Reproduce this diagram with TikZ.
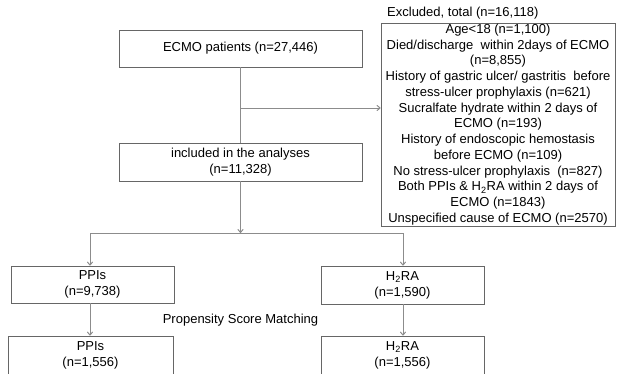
\documentclass[tikz,border=0pt]{standalone}
\usepackage{fontspec}
\setmainfont{Liberation Sans}
\usetikzlibrary{arrows.meta}
\begin{document}
\begin{tikzpicture}[x=1pt,y=-1pt,
  box/.style={draw=black!60, line width=0.8pt, align=center, inner sep=0pt, font=\fontsize{13}{15.75}\selectfont, text=black},
  conn/.style={draw=black!45, line width=1pt},
  arr/.style={conn, -{To[length=4pt,width=6pt]}},
  lbl/.style={inner sep=0pt, font=\fontsize{13}{15.75}\selectfont, text=black}]
\useasboundingbox (0,0) rectangle (619,373);
\clip (0,0) rectangle (619,373);
\node[box, minimum width=243pt, minimum height=37pt] (ecmo) at (240.5,48.5) {ECMO patients (n=27,446)};
\node[box, minimum width=243pt, minimum height=38pt] (incl) at (240.5,162) {included in the analyses\\(n=11,328)};
\node[box, minimum width=234pt, minimum height=203pt] (excl) at (498,124.5) {Age<18 (n=1,100)\\
Died/discharge\ \ within 2days of ECMO\\
(n=8,855)\\
History of gastric ulcer/ gastritis\ \ before\\
stress-ulcer prophylaxis (n=621)\\
Sucralfate hydrate within 2 days of\\
ECMO (n=193)\\
History of endoscopic hemostasis\\
before ECMO (n=109)\\
No stress-ulcer prophylaxis\ \ (n=827)\\
Both PPIs \& H\textsubscript{2}RA within 2 days of\\
ECMO (n=1843)\\
Unspecified cause of ECMO (n=2570)};
\node[lbl, anchor=west] (title) at (387,13) {Excluded, total (n=16,118)};
\node[box, minimum width=163pt, minimum height=37pt] (ppi1) at (92.5,284.5) {PPIs\\(n=9,738)};
\node[box, minimum width=163pt, minimum height=38pt] (h2ra1) at (402.5,285) {H\textsubscript{2}RA\\(n=1,590)};
\node[box, minimum width=165pt, minimum height=38pt] (ppi2) at (90.5,355) {PPIs\\(n=1,556)};
\node[box, minimum width=163pt, minimum height=38pt] (h2ra2) at (402.5,355) {H\textsubscript{2}RA\\(n=1,556)};
\node[lbl] (psm) at (240.5,320) {Propensity Score Matching};
\draw[conn] (ecmo) -- (incl);
\coordinate (br) at (240.5,108);
\draw[arr] (br) -- (br -| excl.west);
\coordinate (split) at (240.5,233);
\draw[arr] (incl) -- (split);
\coordinate (jL) at (90,233);
\coordinate (jR) at (403,233);
\draw[conn] (jL) -- (jR);
\draw[arr] (jL) -- (jL |- ppi1.north);
\draw[arr] (jR) -- (jR |- h2ra1.north);
\draw[arr] (jL |- ppi1.south) -- (jL |- ppi2.north);
\draw[arr] (jR |- h2ra1.south) -- (jR |- h2ra2.north);
\end{tikzpicture}
\end{document}
